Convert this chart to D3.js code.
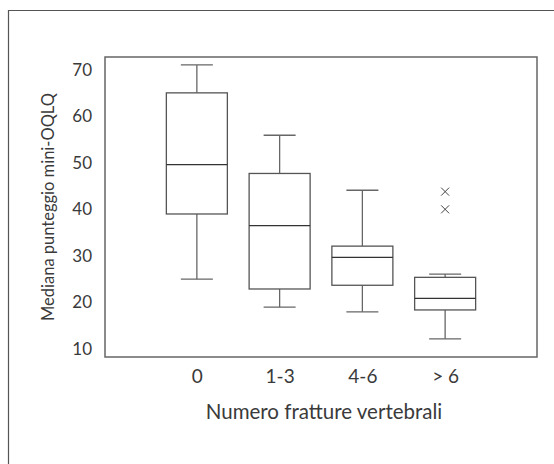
<!DOCTYPE html>
<html>
<head>
<meta charset="utf-8">
<script src="https://cdn.jsdelivr.net/npm/d3@7"></script>
<style>
  body { margin: 0; background: #fff; }
  svg text { font-family: Lato, "Open Sans", sans-serif; fill: #3a3a3a; }
</style>
</head>
<body>
<div id="chart"></div>
<script>
// values
const categories = ['0', '1-3', '4-6', '> 6'];
const whiskerLow = [25, 19, 18, 12.2];
const q1 = [39, 22.9, 23.7, 18.4];
const median = [49.6, 36.5, 29.7, 20.9];
const q3 = [65, 47.7, 32.1, 25.4];
const whiskerHigh = [71, 55.9, 44.1, 26.1];
const outliers = [[], [], [], [43.8, 40]];
const yTicks = [10, 20, 30, 40, 50, 60, 70];

const width = 554;
const height = 464;
const margin = { top: 57, right: 17, bottom: 107, left: 105 };

const svg = d3
  .select('#chart')
  .append('svg')
  .attr('width', width)
  .attr('height', height);

// outer frame (runs off the right and bottom edges)
svg
  .append('path')
  .attr('d', `M8.5,${height}V10.5H${width}`)
  .attr('fill', 'none')
  .attr('stroke', '#555')
  .attr('stroke-width', 1.2);

const xScale = d3
  .scalePoint()
  .domain(categories)
  .range([margin.left, width - margin.right])
  .padding(1.11);

const yScale = d3
  .scaleLinear()
  .domain([8.3, 72.7])
  .range([height - margin.bottom, margin.top]);

const boxW = 61;
const capW = 32;

const data = categories.map((c, i) => ({
  cat: c,
  lo: whiskerLow[i],
  q1: q1[i],
  med: median[i],
  q3: q3[i],
  hi: whiskerHigh[i],
  out: outliers[i],
}));

const g = svg
  .selectAll('g.box')
  .data(data)
  .enter()
  .append('g')
  .attr('class', 'box')
  .attr('transform', (d) => `translate(${xScale(d.cat)},0)`);

// whiskers
g.append('line')
  .attr('y1', (d) => yScale(d.hi))
  .attr('y2', (d) => yScale(d.q3))
  .attr('stroke', '#666')
  .attr('stroke-width', 1.3);
g.append('line')
  .attr('y1', (d) => yScale(d.q1))
  .attr('y2', (d) => yScale(d.lo))
  .attr('stroke', '#666')
  .attr('stroke-width', 1.3);
g.selectAll('line.cap')
  .data((d) => [d.hi, d.lo])
  .enter()
  .append('line')
  .attr('class', 'cap')
  .attr('x1', -capW / 2)
  .attr('x2', capW / 2)
  .attr('y1', (v) => yScale(v))
  .attr('y2', (v) => yScale(v))
  .attr('stroke', '#666')
  .attr('stroke-width', 1.3);

// boxes
g.append('rect')
  .attr('x', -boxW / 2)
  .attr('width', boxW)
  .attr('y', (d) => yScale(d.q3))
  .attr('height', (d) => yScale(d.q1) - yScale(d.q3))
  .attr('fill', '#fff')
  .attr('stroke', '#555')
  .attr('stroke-width', 1.3);

g.append('line')
  .attr('x1', -boxW / 2)
  .attr('x2', boxW / 2)
  .attr('y1', (d) => yScale(d.med))
  .attr('y2', (d) => yScale(d.med))
  .attr('stroke', '#333')
  .attr('stroke-width', 1.3);

// outliers
g.selectAll('path.out')
  .data((d) => d.out)
  .enter()
  .append('path')
  .attr('class', 'out')
  .attr('d', (v) => {
    const y = yScale(v);
    return `M-4,${y - 4}L4,${y + 4}M-4,${y + 4}L4,${y - 4}`;
  })
  .attr('stroke', '#444')
  .attr('stroke-width', 1);

// plot frame
svg
  .append('rect')
  .attr('x', margin.left)
  .attr('y', margin.top)
  .attr('width', width - margin.left - margin.right)
  .attr('height', height - margin.top - margin.bottom)
  .attr('fill', 'none')
  .attr('stroke', '#666')
  .attr('stroke-width', 1.5);

// axes
const yAxis = svg
  .append('g')
  .attr('transform', `translate(${margin.left},0)`)
  .call(d3.axisLeft(yScale).tickValues(yTicks).tickSize(0).tickPadding(13));
yAxis.select('.domain').remove();
yAxis.selectAll('text').style('font-size', '17px').style('font-family', 'Lato').attr('fill', '#3a3a3a');

const xAxis = svg
  .append('g')
  .attr('transform', `translate(0,${height - margin.bottom})`)
  .call(d3.axisBottom(xScale).tickSize(0).tickPadding(13));
xAxis.select('.domain').remove();
xAxis.selectAll('text').style('font-size', '19px').style('font-family', 'Lato').attr('fill', '#3a3a3a');

// axis titles
svg
  .append('text')
  .attr('x', (margin.left + width - margin.right) / 2 + 3)
  .attr('y', 419)
  .attr('text-anchor', 'middle')
  .style('font-size', '20.5px')
  .text('Numero fratture vertebrali');

svg
  .append('text')
  .attr('transform', `translate(54,${(margin.top + height - margin.bottom) / 2}) rotate(-90)`)
  .attr('text-anchor', 'middle')
  .style('font-size', '16.5px')
  .text('Mediana punteggio mini-OQLQ');
</script>
</body>
</html>
